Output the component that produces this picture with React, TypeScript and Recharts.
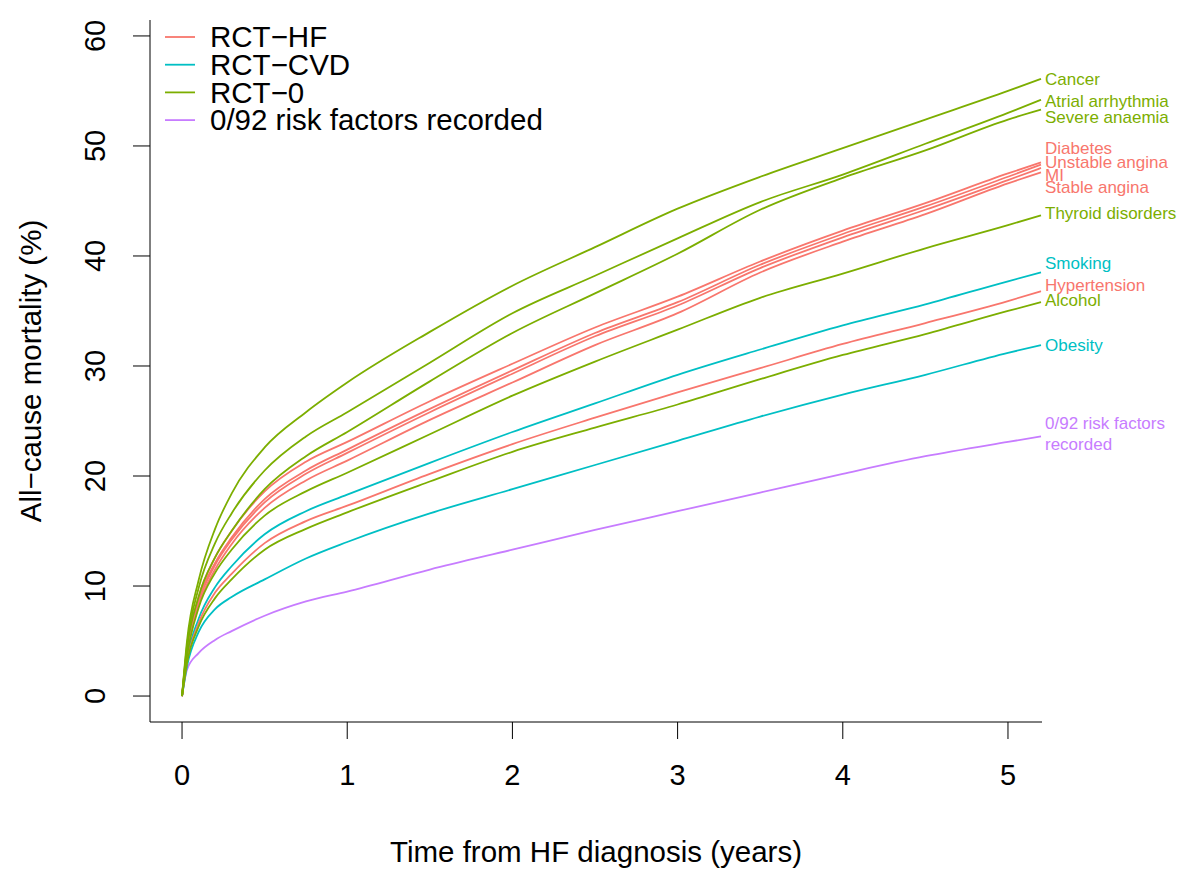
import { LineChart, Line, XAxis, YAxis, ReferenceDot } from "recharts";

const RED = "#F8766D";
const CYAN = "#00BFC4";
const GREEN = "#7CAE00";
const PURPLE = "#C77CFF";
const FONT = "'Liberation Sans', Arial, sans-serif";

// time from HF diagnosis (years)
const years = [0, 0.03, 0.1, 0.2, 0.3, 0.5, 0.75, 1, 1.5, 2, 2.5, 3, 3.5, 4, 4.5, 5, 5.2];

// cumulative all-cause mortality (%)
const noRiskFactors = [0, 2.4, 3.9, 5.1, 5.9, 7.3, 8.6, 9.5, 11.5, 13.3, 15.1, 16.8, 18.5, 20.2, 21.8, 23.1, 23.6];
const obesity = [0, 2.7, 5.8, 7.9, 9.0, 10.6, 12.5, 14.0, 16.6, 18.8, 21.0, 23.2, 25.4, 27.4, 29.2, 31.2, 31.9];
const smoking = [0, 3.3, 7.0, 9.9, 11.8, 14.7, 16.8, 18.3, 21.2, 24.0, 26.6, 29.2, 31.5, 33.7, 35.6, 37.7, 38.5];
const hypertension = [0, 3.1, 6.6, 9.4, 11.1, 13.9, 15.9, 17.3, 20.2, 22.9, 25.3, 27.6, 29.8, 32.0, 33.9, 35.9, 36.8];
const alcohol = [0, 3.0, 6.3, 8.9, 10.6, 13.3, 15.2, 16.7, 19.5, 22.2, 24.4, 26.5, 28.8, 31.0, 32.9, 35.0, 35.8];
const thyroid = [0, 3.6, 8.0, 11.2, 13.3, 16.4, 18.6, 20.3, 23.8, 27.3, 30.4, 33.3, 36.2, 38.4, 40.7, 42.8, 43.7];
const diabetes = [0, 4.2, 9.0, 12.6, 15.0, 18.6, 21.3, 23.1, 26.8, 30.2, 33.5, 36.3, 39.5, 42.3, 44.8, 47.5, 48.5];
const unstableAngina = [0, 4.0, 8.7, 12.1, 14.4, 17.9, 20.5, 22.4, 26.1, 29.6, 33.0, 35.8, 39.2, 42.0, 44.5, 47.2, 48.3];
const mi = [0, 3.9, 8.5, 11.9, 14.2, 17.6, 20.2, 22.1, 25.8, 29.3, 32.7, 35.5, 38.9, 41.7, 44.2, 46.9, 48.0];
const stableAngina = [0, 3.8, 8.2, 11.5, 13.8, 17.1, 19.6, 21.4, 25.1, 28.5, 31.9, 34.8, 38.5, 41.3, 43.8, 46.6, 47.6];
const severeAnaemia = [0, 4.3, 9.0, 12.6, 15.0, 18.8, 21.8, 24.0, 28.6, 33.0, 36.6, 40.2, 44.2, 47.1, 49.6, 52.4, 53.3];
const atrialArrhythmia = [0, 4.6, 9.8, 13.9, 16.6, 20.5, 23.6, 25.8, 30.3, 34.8, 38.2, 41.6, 44.9, 47.4, 50.2, 53.0, 54.2];
const cancer = [0, 5.0, 10.5, 15.2, 18.4, 22.6, 25.8, 28.5, 33.1, 37.3, 40.8, 44.3, 47.2, 49.8, 52.4, 55.0, 56.1];

// where each end label sits (in % units), spread apart as in the figure
const endLabelAt = {
  noRiskFactors: 23.9,
  obesity: 31.9,
  smoking: 39.4,
  hypertension: 37.4,
  alcohol: 36.0,
  thyroid: 43.9,
  diabetes: 49.8,
  unstableAngina: 48.5,
  mi: 47.4,
  stableAngina: 46.3,
  severeAnaemia: 52.6,
  atrialArrhythmia: 54.1,
  cancer: 56.1,
};

const series = [
  { key: "noRiskFactors", label: ["0/92 risk factors", "recorded"], color: PURPLE, values: noRiskFactors },
  { key: "obesity", label: ["Obesity"], color: CYAN, values: obesity },
  { key: "smoking", label: ["Smoking"], color: CYAN, values: smoking },
  { key: "hypertension", label: ["Hypertension"], color: RED, values: hypertension },
  { key: "diabetes", label: ["Diabetes"], color: RED, values: diabetes },
  { key: "unstableAngina", label: ["Unstable angina"], color: RED, values: unstableAngina },
  { key: "mi", label: ["MI"], color: RED, values: mi },
  { key: "stableAngina", label: ["Stable angina"], color: RED, values: stableAngina },
  { key: "alcohol", label: ["Alcohol"], color: GREEN, values: alcohol },
  { key: "thyroid", label: ["Thyroid disorders"], color: GREEN, values: thyroid },
  { key: "severeAnaemia", label: ["Severe anaemia"], color: GREEN, values: severeAnaemia },
  { key: "atrialArrhythmia", label: ["Atrial arrhythmia"], color: GREEN, values: atrialArrhythmia },
  { key: "cancer", label: ["Cancer"], color: GREEN, values: cancer },
];

const legendItems = [
  { name: "RCT\u2212HF", color: RED },
  { name: "RCT\u2212CVD", color: CYAN },
  { name: "RCT\u22120", color: GREEN },
  { name: "0/92 risk factors recorded", color: PURPLE },
];

const xTicks = [0, 1, 2, 3, 4, 5];
const yTicks = [0, 10, 20, 30, 40, 50, 60];

const rows = years.map((t, i) => {
  const row: Record<string, number> = { t };
  series.forEach((s) => (row[s.key] = s.values[i]));
  return row;
});

const XTick = ({ x, y, payload }: any) => (
  <text x={x} y={y} dy="0.71em" textAnchor="middle" fill="#000" fontSize={29} fontFamily={FONT}>
    {payload.value}
  </text>
);

const YTick = ({ x, y, payload }: any) => (
  <text
    x={x}
    y={y}
    dy="0.35em"
    transform={`rotate(-90 ${x} ${y})`}
    textAnchor="middle"
    fill="#000"
    fontSize={29}
    fontFamily={FONT}
  >
    {payload.value}
  </text>
);

const EndLabel = ({ viewBox, lines, color }: any) => {
  const x = viewBox.x + 4;
  const y = viewBox.y;
  const lh = 21;
  const top = y - ((lines.length - 1) * lh) / 2;
  return (
    <text fill={color} fontSize={17} fontFamily={FONT}>
      {lines.map((l: string, i: number) => (
        <tspan key={i} x={x} y={top + i * lh} dy="0.35em">
          {l}
        </tspan>
      ))}
    </text>
  );
};

export default function App() {
  return (
    <div style={{ position: "absolute", left: 0, top: 0, width: 1187, height: 870, background: "#fff" }}>
      <LineChart width={1187} height={870} data={rows} margin={{ top: 20, right: 145, bottom: 0, left: 0 }}>
        <XAxis
          dataKey="t"
          type="number"
          domain={[-0.194, 5.206]}
          allowDataOverflow
          ticks={xTicks}
          height={148}
          tickSize={17}
          tickMargin={25}
          stroke="#000"
          tickLine={{ stroke: "#000" }}
          tick={<XTick />}
          label={(p: any) => {
            const vb = p.viewBox;
            return (
              <text
                x={vb.x + vb.width / 2}
                y={vb.y + 130}
                dy="0.35em"
                textAnchor="middle"
                fill="#000"
                fontSize={29.5}
                fontFamily={FONT}
              >
                Time from HF diagnosis (years)
              </text>
            );
          }}
        />
        <YAxis
          type="number"
          domain={[-2.36, 61.45]}
          allowDataOverflow
          ticks={yTicks}
          width={150}
          tickSize={17}
          tickMargin={38}
          stroke="#000"
          tickLine={{ stroke: "#000" }}
          tick={<YTick />}
          label={(p: any) => {
            const vb = p.viewBox;
            const cx = vb.x + 31;
            const cy = vb.y + vb.height / 2;
            return (
              <text
                x={cx}
                y={cy}
                dy="0.35em"
                transform={`rotate(-90 ${cx} ${cy})`}
                textAnchor="middle"
                fill="#000"
                fontSize={29.5}
                fontFamily={FONT}
              >
                All{"\u2212"}cause mortality (%)
              </text>
            );
          }}
        />
        {series.map((s) => (
          <Line
            key={s.key}
            dataKey={s.key}
            type="monotone"
            stroke={s.color}
            strokeWidth={1.8}
            dot={false}
            activeDot={false}
            isAnimationActive={false}
          />
        ))}
        {series.map((s) => (
          <ReferenceDot
            key={"lbl-" + s.key}
            x={years[years.length - 1]}
            y={(endLabelAt as any)[s.key]}
            r={0}
            fill="none"
            stroke="none"
            label={(p: any) => <EndLabel viewBox={p.viewBox} lines={s.label} color={s.color} />}
          />
        ))}
      </LineChart>
      <svg
        width={420}
        height={120}
        style={{ position: "absolute", left: 160, top: 22, overflow: "visible" }}
      >
        {legendItems.map((it, i) => {
          const cy = 15 + i * 27.7;
          return (
            <g key={it.name}>
              <line x1={5} x2={35} y1={cy} y2={cy} stroke={it.color} strokeWidth={1.8} />
              <text x={50} y={cy} dy="0.35em" fill="#000" fontSize={29.5} fontFamily={FONT}>
                {it.name}
              </text>
            </g>
          );
        })}
      </svg>
    </div>
  );
}
